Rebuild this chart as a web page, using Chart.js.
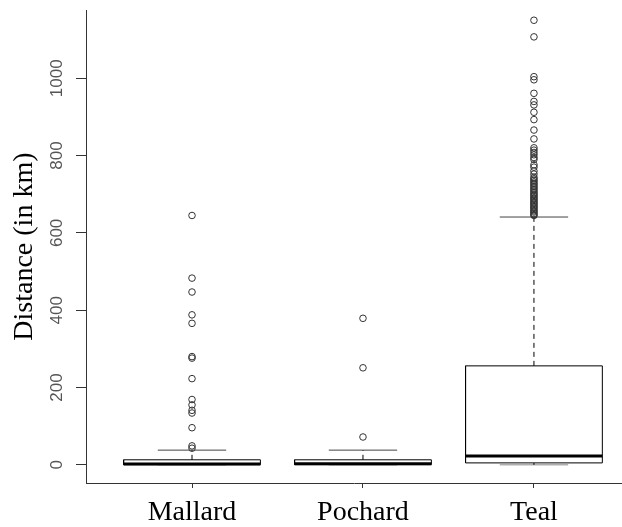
<!DOCTYPE html>
<html>
<head>
<meta charset="utf-8">
<script src="https://cdn.jsdelivr.net/npm/chart.js@4.4.1/dist/chart.umd.min.js"></script>
<style>
  html, body { margin: 0; padding: 0; background: #fff; overflow: hidden; }
</style>
</head>
<body>
<canvas id="grafico_box" width="622" height="527"></canvas>
<script>
let ctx = document.getElementById('grafico_box')

// dados
const categories = ['Mallard', 'Pochard', 'Teal']
const lowerWhisker = [0, 0, 0]
const q1 = [0.5, 0.5, 5]
const median = [2, 3, 23]
const q3 = [13, 13, 256]
const upperWhisker = [38, 38, 641]

const mallardOutliers = [645, 483, 447, 388, 366, 280, 276, 223, 169, 155, 141, 134, 96, 49, 43]
const pochardOutliers = [379, 251, 72]
const tealOutliers = [1150, 1107, 1004, 996, 961, 940, 931, 912, 893, 866, 843, 820, 814, 808, 802,
  795, 790, 776, 770, 760, 752, 744, 740, 736, 732, 728, 724, 720, 716, 712, 708, 704, 700, 697,
  694, 690, 687, 684, 680, 677, 674, 670, 667, 664, 660, 657, 654, 650, 647, 645]

const yTicks = [0, 200, 400, 600, 800, 1000]

const boxHalf = 0.4
const capHalf = 0.2

function segment(points, extra) {
  return Object.assign({
    data: points,
    showLine: true,
    pointRadius: 0,
    borderColor: '#000',
    borderWidth: 1,
    fill: false,
    spanGaps: false
  }, extra)
}

const datasets = []

// outliers primeiro (desenhados por cima)
const outliers = [mallardOutliers, pochardOutliers, tealOutliers]
outliers.forEach((arr, i) => {
  datasets.push({
    data: arr.map(v => ({ x: i + 1, y: v })),
    showLine: false,
    pointRadius: 3.3,
    pointBorderWidth: 1,
    pointBorderColor: '#333',
    pointBackgroundColor: 'rgba(0,0,0,0)'
  })
})

categories.forEach((c, i) => {
  const x = i + 1
  // caixa
  datasets.push(segment([
    { x: x - boxHalf, y: q1[i] }, { x: x + boxHalf, y: q1[i] },
    { x: x + boxHalf, y: q3[i] }, { x: x - boxHalf, y: q3[i] },
    { x: x - boxHalf, y: q1[i] }
  ]))
  // mediana
  datasets.push(segment([{ x: x - boxHalf, y: median[i] }, { x: x + boxHalf, y: median[i] }], { borderWidth: 3 }))
  // bigodes
  datasets.push(segment([{ x: x, y: q3[i] }, { x: x, y: upperWhisker[i] }], { borderDash: [5, 4] }))
  datasets.push(segment([{ x: x, y: q1[i] }, { x: x, y: lowerWhisker[i] }], { borderDash: [5, 4] }))
  datasets.push(segment([{ x: x - capHalf, y: upperWhisker[i] }, { x: x + capHalf, y: upperWhisker[i] }], { borderColor: '#444' }))
  datasets.push(segment([{ x: x - capHalf, y: lowerWhisker[i] }, { x: x + capHalf, y: lowerWhisker[i] }], { borderColor: '#888' }))
})

const config = {
  type: 'scatter',
  data: { datasets },
  options: {
    responsive: false,
    animation: false,
    layout: { autoPadding: false, padding: { top: 7, right: 0, left: 0, bottom: 0 } },
    plugins: {
      legend: { display: false },
      tooltip: { enabled: false }
    },
    scales: {
      x: {
        type: 'linear',
        min: 0.38,
        max: 3.515,
        afterBuildTicks: (axis) => { axis.ticks = categories.map((c, i) => ({ value: i + 1 })) },
        afterFit: (axis) => { axis.height = 44 },
        grid: { drawOnChartArea: false, drawTicks: true, tickLength: 5, color: '#333' },
        border: { color: '#333', width: 1 },
        ticks: {
          autoSkip: false,
          maxRotation: 0,
          padding: 8,
          color: '#000',
          font: { family: '"Liberation Serif", "Times New Roman", serif', size: 28 },
          callback: (v) => categories[v - 1]
        }
      },
      y: {
        min: -47,
        max: 1176,
        afterBuildTicks: (axis) => { axis.ticks = yTicks.map(v => ({ value: v })) },
        afterFit: (axis) => { axis.width = 86 },
        grid: { drawOnChartArea: false, drawTicks: true, tickLength: 10, color: '#333' },
        border: { color: '#333', width: 1 },
        ticks: {
          minRotation: 90,
          maxRotation: 90,
          crossAlign: 'center',
          padding: 0,
          color: '#555',
          font: { family: '"Liberation Sans", Arial, sans-serif', size: 17 },
          callback: (v) => String(v)
        },
        title: {
          display: true,
          text: 'Distance (in km)',
          color: '#000',
          padding: { top: 8, bottom: 0 },
          font: { family: '"Liberation Serif", "Times New Roman", serif', size: 28 }
        }
      }
    }
  }
}

const graph = new Chart(ctx, config)
</script>
</body>
</html>
